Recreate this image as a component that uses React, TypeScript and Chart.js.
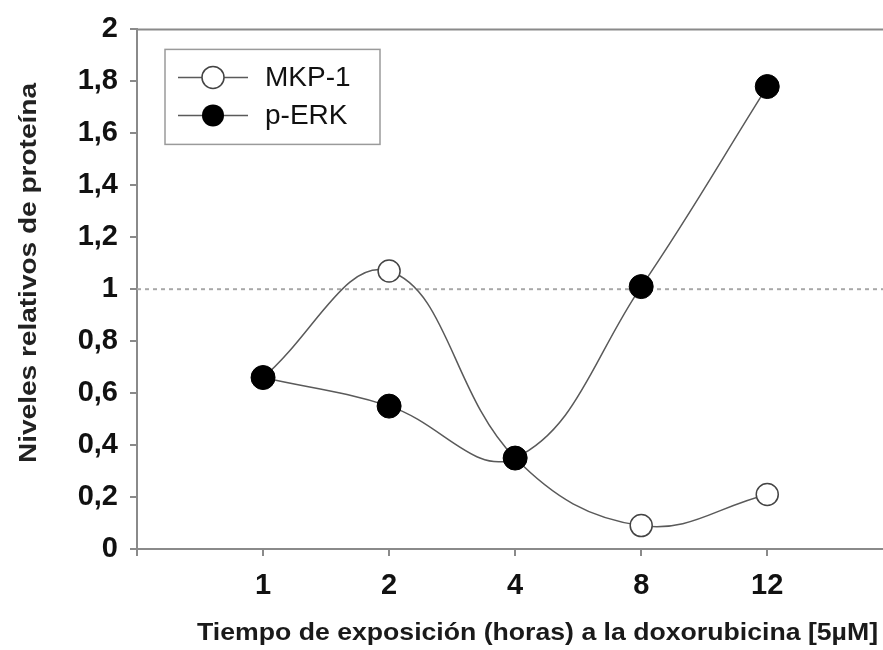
import React, { useEffect, useRef } from 'react';
import { Chart, registerables } from 'chart.js';

Chart.register(...registerables);

const categories = ['1', '2', '4', '8', '12'];
const mkp1Values = [0.66, 1.07, 0.35, 0.09, 0.21];
const perkValues = [0.66, 0.55, 0.35, 1.01, 1.78];
const yTickValues = [0, 0.2, 0.4, 0.6, 0.8, 1, 1.2, 1.4, 1.6, 1.8, 2];
const yTickLabels = ['0', '0,2', '0,4', '0,6', '0,8', '1', '1,2', '1,4', '1,6', '1,8', '2'];
const seriesNames = ['MKP-1', 'p-ERK'];
const referenceLevel = 1;
const xTitle = 'Tiempo de exposición (horas) a la doxorubicina [5µM]';
const yTitle = 'Niveles relativos de proteína';

const FONT = '"Liberation Sans", Arial, sans-serif';
const AXIS_COLOR = '#8a8a8a';
const LINE_COLOR = '#5a5a5a';

function drawStretched(ctx: any, text: string, cx: number, cy: number, targetWidth: number) {
  const w = ctx.measureText(text).width;
  ctx.save();
  ctx.translate(cx, cy);
  ctx.scale(targetWidth / w, 1);
  ctx.textAlign = 'center';
  ctx.fillText(text, 0, 0);
  ctx.restore();
}

const decorPlugin = {
  id: 'decor',
  beforeDatasetsDraw(chart: any) {
    const { ctx, chartArea } = chart;
    const y = chart.scales.y.getPixelForValue(referenceLevel);
    ctx.save();
    ctx.strokeStyle = '#a8a8a8';
    ctx.lineWidth = 2;
    ctx.setLineDash([4, 4]);
    ctx.beginPath();
    ctx.moveTo(chartArea.left, y);
    ctx.lineTo(chartArea.right, y);
    ctx.stroke();
    ctx.setLineDash([]);
    ctx.strokeStyle = AXIS_COLOR;
    ctx.lineWidth = 2;
    ctx.beginPath();
    ctx.moveTo(chartArea.left, chartArea.top);
    ctx.lineTo(chartArea.right, chartArea.top);
    ctx.stroke();
    ctx.restore();
  },
  afterDraw(chart: any) {
    const { ctx, chartArea } = chart;
    ctx.save();
    // legend box
    const bx = chartArea.left + 28;
    const by = chartArea.top + 20;
    const bw = 215;
    const bh = 95;
    ctx.strokeStyle = '#9a9a9a';
    ctx.lineWidth = 1.5;
    ctx.strokeRect(bx, by, bw, bh);
    const rows = [by + 28, by + 66];
    seriesNames.forEach((name, i) => {
      const ry = rows[i];
      ctx.strokeStyle = LINE_COLOR;
      ctx.lineWidth = 1.5;
      ctx.beginPath();
      ctx.moveTo(bx + 13, ry);
      ctx.lineTo(bx + 83, ry);
      ctx.stroke();
      ctx.beginPath();
      ctx.arc(bx + 48, ry, 11, 0, Math.PI * 2);
      if (i === 0) {
        ctx.fillStyle = '#fff';
        ctx.fill();
        ctx.strokeStyle = '#444';
        ctx.lineWidth = 1.5;
        ctx.stroke();
      } else {
        ctx.fillStyle = '#000';
        ctx.fill();
      }
      ctx.fillStyle = '#111';
      ctx.font = `28px ${FONT}`;
      ctx.textAlign = 'left';
      ctx.textBaseline = 'middle';
      ctx.fillText(name, bx + 100, ry + 1);
    });
    // axis titles
    ctx.fillStyle = '#1a1a1a';
    ctx.font = `bold 24px ${FONT}`;
    ctx.textBaseline = 'alphabetic';
    drawStretched(ctx, xTitle, 537.5, 640, 681);
    ctx.save();
    ctx.translate(36, 273);
    ctx.rotate(-Math.PI / 2);
    ctx.fillStyle = '#222';
    ctx.font = `bold 24px ${FONT}`;
    drawStretched(ctx, yTitle, 0, 0, 380);
    ctx.restore();
    ctx.restore();
  },
};

export default function App() {
  const canvasRef = useRef<HTMLCanvasElement>(null);

  useEffect(() => {
    const canvas = canvasRef.current;
    if (!canvas) return;
    const chart = new Chart(canvas, {
      type: 'line',
      data: {
        datasets: [
          {
            label: seriesNames[0],
            data: mkp1Values.map((v, i) => ({ x: i + 1, y: v })),
            borderColor: LINE_COLOR,
            borderWidth: 1.5,
            tension: 0.4,
            pointRadius: 11,
            pointBackgroundColor: '#fff',
            pointBorderColor: '#444',
            pointBorderWidth: 1.5,
            order: 1,
          },
          {
            label: seriesNames[1],
            data: perkValues.map((v, i) => ({ x: i + 1, y: v })),
            borderColor: LINE_COLOR,
            borderWidth: 1.5,
            tension: 0.4,
            pointRadius: 12,
            pointBackgroundColor: '#000',
            pointBorderColor: '#000',
            pointBorderWidth: 1,
            order: 0,
          },
        ],
      },
      options: {
        responsive: false,
        animation: false,
        layout: { padding: { top: 25, right: 0, left: 0, bottom: 0 } },
        plugins: { legend: { display: false }, tooltip: { enabled: false } },
        scales: {
          x: {
            type: 'linear',
            min: 0,
            max: 5.95,
            afterBuildTicks: (scale: any) => {
              scale.ticks = [0, 1, 2, 3, 4, 5].map((v) => ({ value: v }));
            },
            afterFit: (scale: any) => {
              scale.height = 101;
            },
            ticks: {
              autoSkip: false,
              maxRotation: 0,
              padding: 13,
              color: '#111',
              font: { family: FONT, size: 29, weight: 'bold' },
              callback: (v: any) => (v >= 1 && v <= categories.length ? categories[v - 1] : ''),
            },
            grid: { drawOnChartArea: false, drawTicks: true, tickLength: 7, color: AXIS_COLOR, lineWidth: 2 },
            border: { display: true, color: AXIS_COLOR, width: 2 },
          },
          y: {
            min: 0,
            max: 2,
            afterBuildTicks: (scale: any) => {
              scale.ticks = yTickValues.map((v) => ({ value: v }));
            },
            afterFit: (scale: any) => {
              scale.width = 137;
            },
            ticks: {
              padding: 12,
              color: '#111',
              font: { family: FONT, size: 29, weight: 'bold' },
              callback: (_v: any, i: number) => yTickLabels[i],
            },
            grid: { drawOnChartArea: false, drawTicks: true, tickLength: 7, color: AXIS_COLOR, lineWidth: 2 },
            border: { display: true, color: AXIS_COLOR, width: 2 },
          },
        },
      },
      plugins: [decorPlugin],
    } as any);
    return () => chart.destroy();
  }, []);

  return (
    <div style={{ position: 'fixed', left: 0, top: 0, width: 883, height: 650, overflow: 'hidden', background: '#fff' }}>
      <canvas ref={canvasRef} width={900} height={650} />
    </div>
  );
}
